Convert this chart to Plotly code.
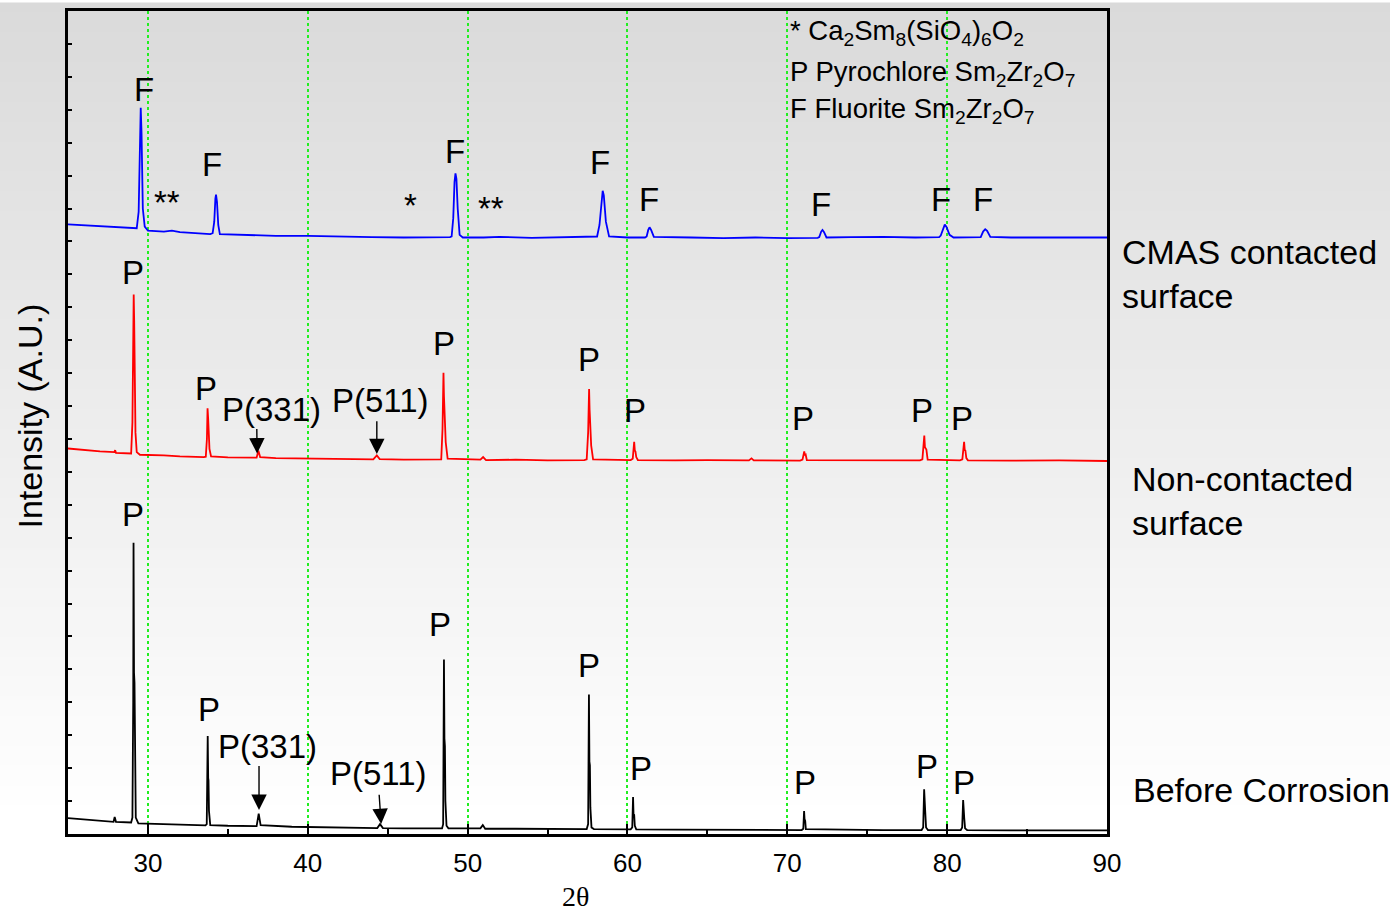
import plotly.graph_objects as go

# ---------------- data ----------------
# 2-theta positions and relative intensities (arbitrary units, stacked)
cmas_x = [25, 27, 29, 29.30, 29.42, 29.50, 29.55, 29.60, 29.68, 29.80, 30.0, 31, 31.5, 32, 33, 33.9,
          34.05, 34.15, 34.22, 34.26, 34.32, 34.40, 34.5, 36, 38, 40, 42, 44, 46, 48, 48.9,
          49.0, 49.10, 49.18, 49.24, 49.30, 49.38, 49.5, 49.7, 51, 52, 54, 56, 58.0,
          58.1, 58.25, 58.38, 58.45, 58.52, 58.65, 58.85, 60, 61.1,
          61.2, 61.3, 61.38, 61.48, 61.65, 64, 66, 68, 70, 71.9,
          72.0, 72.12, 72.2, 72.3, 72.45, 74, 76, 78, 79.5,
          79.6, 79.75, 79.85, 79.95, 80.15, 80.4, 82.1, 82.25, 82.38, 82.5, 82.7, 84, 86, 88, 90]
cmas_y = [18.52, 18.46, 18.42, 18.40, 18.9, 21.2, 22.06, 21.3, 19.0, 18.45, 18.33, 18.30, 18.33, 18.28, 18.25, 18.22,
          18.25, 18.6, 19.3, 19.42, 19.2, 18.5, 18.22, 18.20, 18.17, 18.17, 18.14, 18.13, 18.12, 18.12, 18.13,
          18.15, 18.7, 19.8, 20.07, 19.9, 19.0, 18.2, 18.12, 18.12, 18.14, 18.11, 18.12, 18.13,
          18.15, 18.5, 19.35, 19.54, 19.4, 18.6, 18.15, 18.12, 18.12,
          18.15, 18.35, 18.43, 18.35, 18.14, 18.12, 18.10, 18.12, 18.10, 18.11,
          18.13, 18.30, 18.35, 18.28, 18.12, 18.13, 18.14, 18.12, 18.13,
          18.18, 18.42, 18.51, 18.45, 18.20, 18.12, 18.13, 18.30, 18.37, 18.32, 18.14, 18.12, 18.11, 18.12, 18.12]

noncontact_x = [25, 26, 27, 27.9, 27.95, 28.0, 28.9,
                28.95, 29.03, 29.08, 29.11, 29.14, 29.19, 29.22, 29.3, 29.5, 31, 32, 33.5,
                33.62, 33.69, 33.73, 33.77, 33.80, 33.85, 33.95, 35, 36.7,
                36.8, 36.91, 37.02, 38, 40, 42, 44.1, 44.32, 44.5, 46, 48.2,
                48.35, 48.43, 48.47, 48.49, 48.52, 48.55, 48.58, 48.63, 48.75,
                50.8, 50.97, 51.15, 53, 55, 57.3,
                57.45, 57.54, 57.58, 57.60, 57.63, 57.66, 57.69, 57.73, 57.85, 60.2,
                60.33, 60.40, 60.42, 60.46, 60.50, 60.55, 60.65, 63, 65, 67.6, 67.76, 67.9, 70.8,
                70.95, 71.03, 71.06, 71.10, 71.15, 71.22, 74, 76, 78.3,
                78.45, 78.53, 78.57, 78.61, 78.65, 78.70, 78.78, 80.8,
                80.95, 81.02, 81.06, 81.10, 81.14, 81.20, 81.30, 84, 87, 90]
noncontact_y = [11.71, 11.66, 11.62, 11.60, 11.66, 11.58, 11.55,
                11.56, 12.5, 15.8, 16.39, 15.6, 12.8, 12.2, 11.6, 11.52, 11.50, 11.47, 11.45,
                11.46, 12.0, 12.93, 12.6, 12.3, 11.7, 11.47, 11.44, 11.43,
                11.43, 11.64, 11.45, 11.42, 11.40, 11.38, 11.38, 11.50, 11.39, 11.37, 11.37,
                11.38, 12.3, 13.8, 14.01, 13.3, 12.83, 12.7, 11.9, 11.40,
                11.37, 11.45, 11.36, 11.37, 11.35, 11.36,
                11.38, 12.2, 13.3, 13.52, 12.9, 12.59, 12.5, 11.8, 11.38, 11.36,
                11.40, 11.85, 11.91, 11.65, 11.62, 11.45, 11.36, 11.35, 11.36, 11.35, 11.41, 11.35, 11.34,
                11.37, 11.58, 11.62, 11.50, 11.52, 11.36, 11.35, 11.34, 11.35,
                11.38, 11.9, 12.10, 11.75, 11.72, 11.68, 11.37, 11.35,
                11.38, 11.8, 11.91, 11.66, 11.65, 11.42, 11.35, 11.34, 11.35, 11.33]

before_x = [25, 26, 27, 27.85, 27.92, 28.0, 28.95,
            29.03, 29.08, 29.10, 29.12, 29.13, 29.16, 29.19, 29.24, 29.4, 31, 32, 33.6,
            33.68, 33.74, 33.77, 33.79, 33.82, 33.9, 35, 36.8, 36.93, 37.05,
            39, 41, 43, 44.35, 44.52, 44.7, 46, 48.4,
            48.47, 48.52, 48.55, 48.58, 48.61, 48.68, 48.8, 50.8, 50.95, 51.1, 53, 55, 57.45,
            57.54, 57.59, 57.62, 57.65, 57.68, 57.75, 57.9, 60.2,
            60.30, 60.35, 60.38, 60.42, 60.46, 60.55, 63, 66, 68, 70.9,
            71.0, 71.05, 71.08, 71.12, 71.16, 74, 76, 78.4,
            78.50, 78.56, 78.59, 78.63, 78.68, 78.8, 80.85,
            80.94, 81.00, 81.03, 81.07, 81.12, 81.25, 84, 87, 90]
before_y = [0.48, 0.44, 0.40, 0.37, 0.52, 0.37, 0.35,
            0.5, 4.0, 8.85, 8.0, 4.9, 4.6, 1.5, 0.5, 0.32, 0.30, 0.28, 0.26,
            0.30, 2.98, 1.7, 1.63, 0.7, 0.27, 0.25, 0.24, 0.62, 0.27,
            0.22, 0.20, 0.18, 0.18, 0.30, 0.18, 0.17, 0.17,
            0.30, 5.3, 2.9, 2.67, 1.0, 0.25, 0.17, 0.17, 0.27, 0.16, 0.16, 0.15, 0.15,
            0.30, 4.24, 2.2, 2.09, 0.8, 0.20, 0.15, 0.14,
            0.20, 1.12, 0.60, 0.58, 0.25, 0.14, 0.13, 0.13, 0.12, 0.12,
            0.16, 0.70, 0.45, 0.40, 0.15, 0.12, 0.12, 0.12,
            0.20, 1.36, 0.75, 0.67, 0.20, 0.12, 0.12,
            0.20, 1.03, 0.55, 0.48, 0.17, 0.12, 0.11, 0.12, 0.11]

# peak labels: text, x, y
label_text = ["F", "**", "F", "*", "F", "**", "F", "F", "F", "F", "F",
              "P", "P", "P(331)", "P(511)", "P", "P", "P", "P", "P", "P",
              "P", "P", "P(331)", "P(511)", "P", "P", "P", "P", "P", "P"]
label_x = [29.76, 31.2, 34.01, 46.40, 49.22, 51.47, 58.29, 61.36, 72.12, 79.63, 82.26,
           29.07, 33.64, 37.70, 44.52, 48.53, 57.60, 60.48, 71.0, 78.44, 80.94,
           29.07, 33.82, 37.45, 44.40, 48.28, 57.60, 60.86, 71.12, 78.75, 81.07]
label_y = [22.61, 19.19, 20.34, 19.10, 20.73, 19.01, 20.40, 19.28, 19.13, 19.28, 19.28,
           17.07, 13.53, 12.89, 13.17, 14.89, 14.41, 12.86, 12.62, 12.86, 12.62,
           9.72, 3.78, 2.66, 1.85, 6.36, 5.11, 2.00, 1.57, 2.06, 1.57]

# arrows: tip x, tip y, tail x, tail y
arrow_tip_x = [36.83, 44.32, 36.95, 44.59]
arrow_tip_y = [11.56, 11.54, 0.73, 0.30]
arrow_tail_x = [36.81, 44.32, 36.95, 44.46]
arrow_tail_y = [12.35, 12.58, 2.11, 1.24]

series_names = ["CMAS contacted<br>surface", "Non-contacted<br>surface", "Before Corrosion"]
series_colors = ["#0000ff", "#ff0000", "#000000"]
legend_lines = ["* Ca<sub>2</sub>Sm<sub>8</sub>(SiO<sub>4</sub>)<sub>6</sub>O<sub>2</sub>",
                "P Pyrochlore Sm<sub>2</sub>Zr<sub>2</sub>O<sub>7</sub>",
                "F Fluorite Sm<sub>2</sub>Zr<sub>2</sub>O<sub>7</sub>"]
x_ticks = [30, 40, 50, 60, 70, 80, 90]

# ---------------- figure ----------------
W, H = 1390, 915
L, R, T, B = 68, 283, 8, 81
plot_h = H - T - B
plot_w = W - L - R
FONT = "Liberation Sans, Arial, sans-serif"

fig = go.Figure()
for xs, ys, c in zip([cmas_x, noncontact_x, before_x], [cmas_y, noncontact_y, before_y], series_colors):
    fig.add_trace(go.Scatter(x=xs, y=ys, mode="lines", line=dict(color=c, width=1.8),
                             showlegend=False, hoverinfo="skip"))

# gradient background (grey at top to white at bottom)
n_bands = 92
for i in range(n_bands):
    py0 = i * H / n_bands
    py1 = (i + 1) * H / n_bands
    yc = (py0 + py1) / 2
    v = int(round(218 + 37 * min(1.0, yc / 820)))
    fig.add_shape(type="rect", xref="paper", yref="paper", layer="below",
                  x0=-0.08, x1=1.30,
                  y0=(H - B - py1) / plot_h - 0.0005, y1=(H - B - py0) / plot_h + 0.0005,
                  line=dict(width=0), fillcolor=f"rgb({v},{v},{v})")

annotations = []
for t, x, y in zip(label_text, label_x, label_y):
    annotations.append(dict(x=x, y=y, xref="x", yref="y", text=t, showarrow=False,
                            font=dict(family=FONT, size=33, color="black"),
                            xanchor="center", yanchor="middle"))
for tx, ty, ax, ay in zip(arrow_tip_x, arrow_tip_y, arrow_tail_x, arrow_tail_y):
    annotations.append(dict(x=tx, y=ty, ax=ax, ay=ay, xref="x", yref="y", axref="x", ayref="y",
                            text="", showarrow=True, arrowhead=2, arrowsize=2.2,
                            arrowwidth=1.4, arrowcolor="black"))
# series names on the right
name_pos = [(1120, 272), (1130, 500), (1131, 790)]
for name, (px, py) in zip(series_names, name_pos):
    annotations.append(dict(x=(px - L) / plot_w, y=(H - B - py) / plot_h, xref="paper", yref="paper",
                            text=name, showarrow=False, align="left", xanchor="left", yanchor="middle",
                            font=dict(family=FONT, size=34, color="black")))
# phase key
key_py = [30, 71, 108]
for line, py in zip(legend_lines, key_py):
    annotations.append(dict(x=(788 - L) / plot_w, y=(H - B - py) / plot_h, xref="paper", yref="paper",
                            text=line, showarrow=False, align="left", xanchor="left", yanchor="middle",
                            font=dict(family=FONT, size=27.5, color="black")))
# axis titles
annotations.append(dict(x=(30 - L) / plot_w, y=(H - B - 415) / plot_h, xref="paper", yref="paper",
                        text="Intensity (A.U.)", textangle=-90, showarrow=False,
                        xanchor="center", yanchor="middle",
                        font=dict(family=FONT, size=34, color="black")))
annotations.append(dict(x=(575 - L) / plot_w, y=(H - B - 897) / plot_h, xref="paper", yref="paper",
                        text="2θ", showarrow=False, xanchor="center", yanchor="middle",
                        font=dict(family="Liberation Serif, Times New Roman, serif", size=28, color="black")))

fig.update_layout(
    width=W, height=H,
    margin=dict(l=L, r=R, t=T, b=B, pad=0),
    paper_bgcolor="white",
    plot_bgcolor="rgba(0,0,0,0)",
    annotations=annotations,
    showlegend=False,
)
fig.update_xaxes(range=[25, 90], tickvals=x_ticks, ticktext=[str(v) for v in x_ticks],
                 ticks="inside", ticklen=10, tickwidth=1.5, tickcolor="black",
                 minor=dict(ticks="inside", ticklen=5, tickwidth=1.5, tickcolor="black", dtick=5, tick0=25,
                            showgrid=False),
                 showgrid=True, gridcolor="#22ee22", griddash="dot", gridwidth=1.5,
                 showline=True, linecolor="black", linewidth=2.5, mirror=True,
                 zeroline=False, ticklabelstandoff=4,
                 tickfont=dict(family=FONT, size=26, color="black"))
fig.update_yaxes(range=[0, 25], dtick=1, tick0=0, ticks="inside", ticklen=4, tickwidth=1.5,
                 tickcolor="black", showticklabels=False, showgrid=False, zeroline=False,
                 showline=True, linecolor="black", linewidth=2.5, mirror=True)

fig.write_html("out.html", config={"displayModeBar": False},
               post_script="document.body.style.margin='0';document.body.style.overflow='hidden';")
